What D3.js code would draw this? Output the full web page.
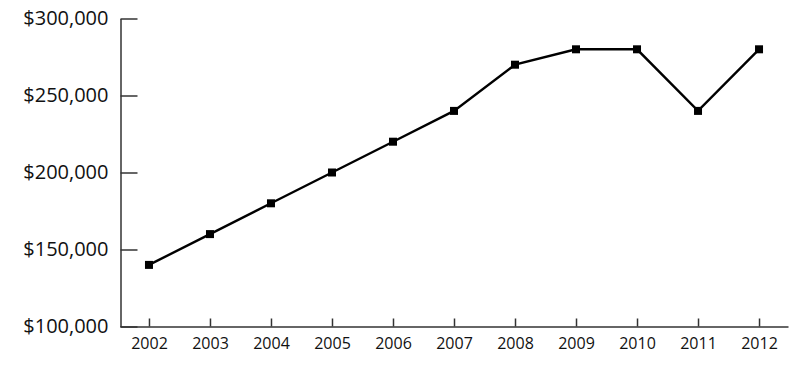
<!DOCTYPE html>
<html>
<head>
<meta charset="utf-8">
<script src="https://cdn.jsdelivr.net/npm/d3@7"></script>
<style>
  body { margin: 0; background: #fff; }
  svg text { font-family: "Open Sans", sans-serif; fill: #111; }
</style>
</head>
<body>
<div id="chart"></div>
<script>
// chart data
const years = ["2002", "2003", "2004", "2005", "2006", "2007", "2008", "2009", "2010", "2011", "2012"];
const values = [140000, 160000, 180000, 200000, 220000, 240000, 270000, 280000, 280000, 240000, 280000];
const yTicks = [100000, 150000, 200000, 250000, 300000];

const width = 810, height = 365;

const svg = d3.select('#chart').append('svg')
  .attr('width', width)
  .attr('height', height);

// scales
const x = d3.scalePoint()
  .domain(years)
  .range([120, 788])
  .padding(0.475);

const y = d3.scaleLinear()
  .domain([100000, 300000])
  .range([326.5, 18.5]);

const fmt = d3.format('$,');

// x axis, ticks pointing up into the plot
const xAxis = svg.append('g')
  .attr('transform', 'translate(0,326.5)')
  .call(d3.axisBottom(x).tickSizeInner(-8).tickSizeOuter(0).tickPadding(11));
xAxis.selectAll('text').style('font-size', '16px');

// y axis, ticks pointing right
const yAxis = svg.append('g')
  .attr('transform', 'translate(120.5,0)')
  .call(d3.axisLeft(y).tickValues(yTicks).tickFormat(fmt)
    .tickSizeInner(-17).tickSizeOuter(0).tickPadding(12));
yAxis.selectAll('text').style('font-size', '20px');

svg.selectAll('.domain, .tick line')
  .attr('stroke', '#333')
  .attr('stroke-width', 1.5);

// the line
const line = d3.line()
  .x((d, i) => x(years[i]))
  .y(d => y(d));

svg.append('path')
  .datum(values)
  .attr('fill', 'none')
  .attr('stroke', '#000')
  .attr('stroke-width', 2.4)
  .attr('d', line);

// square markers
svg.selectAll('rect.pt')
  .data(values)
  .enter().append('rect')
  .attr('class', 'pt')
  .attr('x', (d, i) => x(years[i]) - 4)
  .attr('y', d => y(d) - 4)
  .attr('width', 8)
  .attr('height', 8)
  .attr('fill', '#000');
</script>
</body>
</html>
